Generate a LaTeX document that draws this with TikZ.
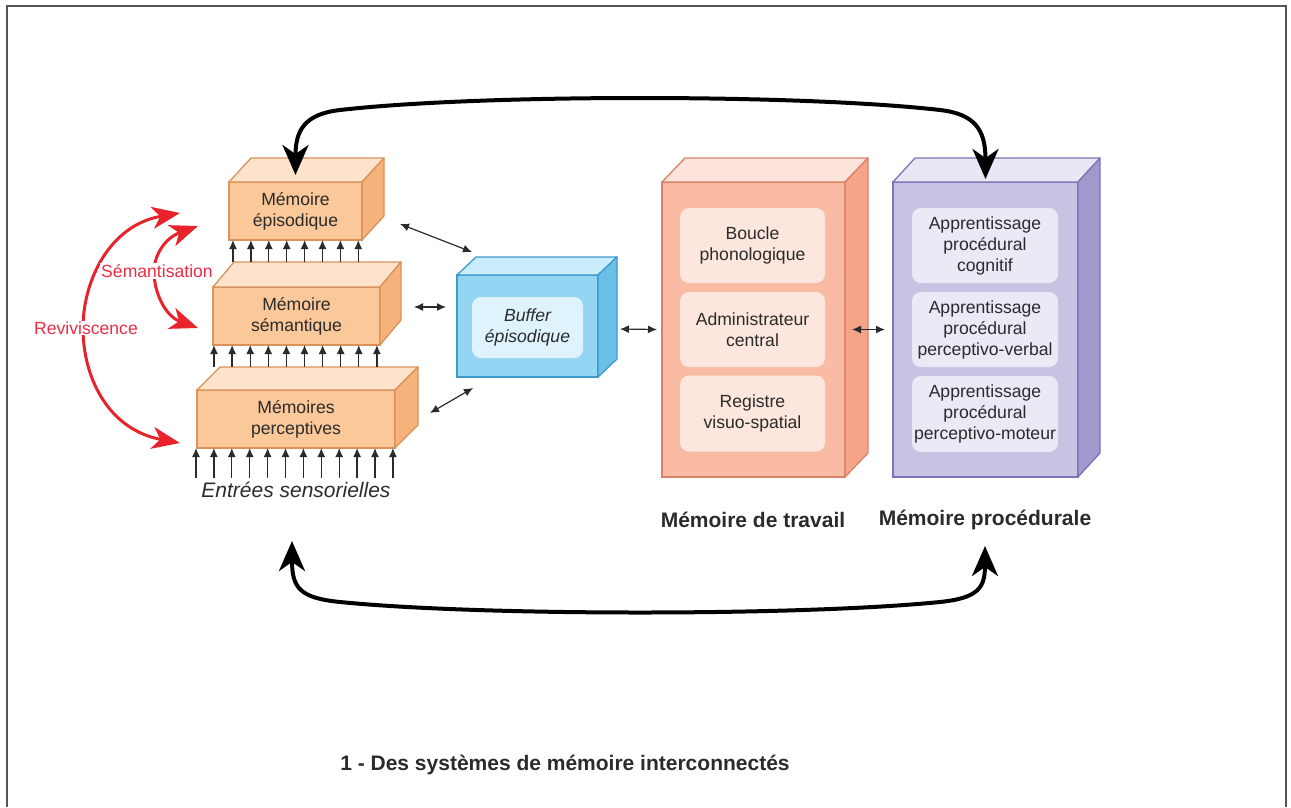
\documentclass[tikz,border=0pt]{standalone}
\usepackage{fontspec}
\setmainfont{Liberation Sans}
\usetikzlibrary{arrows.meta}
\definecolor{txt}{HTML}{2B2B2B}
\definecolor{redc}{HTML}{E8232B}
\definecolor{redt}{HTML}{EA2F45}
\definecolor{frame}{HTML}{555555}
% peach blocks
\definecolor{peach}{HTML}{FBC899}
\definecolor{peachtop}{HTML}{FDE3CC}
\definecolor{peachside}{HTML}{F5B27A}
\definecolor{peachline}{HTML}{D9925A}
% buffer
\definecolor{sky}{HTML}{93D5F2}
\definecolor{skytop}{HTML}{C9EDFB}
\definecolor{skyside}{HTML}{6CBFE6}
\definecolor{skyline}{HTML}{3D9ACB}
\definecolor{skyin}{HTML}{DFF3FC}
% working memory
\definecolor{salmon}{HTML}{F9BBA4}
\definecolor{salmontop}{HTML}{FDE4DA}
\definecolor{salmonside}{HTML}{F4A588}
\definecolor{salmonline}{HTML}{D9826A}
\definecolor{salmonin}{HTML}{FDE6DD}
% procedural
\definecolor{lila}{HTML}{C7C3E2}
\definecolor{lilatop}{HTML}{E8E7F4}
\definecolor{lilaside}{HTML}{9F99CC}
\definecolor{lilaline}{HTML}{7C74B8}
\definecolor{lilain}{HTML}{EAE9F5}
\newcommand{\blocktext}{\fontsize{17.6}{21}\selectfont}
\newcommand{\bigtext}{\fontsize{21}{24}\selectfont}
\newcommand{\blockfaces}[6]{% node, dx, dy, top, side, line
  \draw[draw=#6, fill=#4, line width=1.3pt, line join=round]
    (#1.north west) -- ([shift={(#2,-#3)}]#1.north west)
    -- ([shift={(#2,-#3)}]#1.north east) -- (#1.north east) -- cycle;
  \draw[draw=#6, fill=#5, line width=1.3pt, line join=round]
    (#1.north east) -- ([shift={(#2,-#3)}]#1.north east)
    -- ([shift={(#2,-#3)}]#1.south east) -- (#1.south east) -- cycle;
}
\tikzset{
  box/.style={draw, line width=1.3pt, inner sep=0pt, outer sep=0pt,
    align=center, text=txt, font=\blocktext},
  inbox/.style={rounded corners=9pt, inner sep=0pt, align=center,
    text=txt, font=\blocktext},
  upar/.style={-{Latex[length=9pt,width=8pt]}, line width=1.3pt, txt},
  dbl/.style={{Latex[length=9pt,width=8pt]}-{Latex[length=9pt,width=8pt]},
    line width=1.2pt, txt},
  bigar/.style={{Stealth[length=30pt,width=26pt,inset=9pt]}-{Stealth[length=30pt,width=26pt,inset=9pt]},
    line width=4pt, black},
  redar/.style={{Stealth[length=28pt,width=22pt,inset=8pt]}-{Stealth[length=28pt,width=22pt,inset=8pt]},
    line width=3pt, redc},
  redlabel/.style={fill=white, text=redt, font=\blocktext, inner sep=1pt},
  syslabel/.style={text=txt, font=\bigtext\bfseries}
}

\begin{document}
\begin{tikzpicture}[x=1pt, y=-1pt]
  \useasboundingbox (0,0) rectangle (1291,807);
  \draw[frame, line width=2pt] (7,807) -- (7,6) -- (1286,6) -- (1286,807);

  % red arcs
  \draw[redar] (180,213) .. controls (110,225) and (83,280) .. (83,328)
    .. controls (83,380) and (110,430) .. (180,443);
  \node[redlabel] (reviv) at (86,328) {Reviviscence};
  \draw[redar] (198,226) .. controls (165,238) and (154,255) .. (154,272)
    .. controls (154,292) and (165,316) .. (198,328);
  \node[redlabel] (semant) at (157,271) {Sémantisation};

  % left blocks
  \node[box, fill=peach, draw=peachline, minimum width=133pt, minimum height=58pt]
    (epi) at (295.5,211) {Mémoire\\épisodique};
  \blockfaces{epi}{22}{24}{peachtop}{peachside}{peachline}
  \node[box, fill=peach, draw=peachline, minimum width=167pt, minimum height=58pt]
    (sem) at (296.5,316) {Mémoire\\sémantique};
  \blockfaces{sem}{21}{25}{peachtop}{peachside}{peachline}
  \node[box, fill=peach, draw=peachline, minimum width=198pt, minimum height=58pt]
    (perc) at (296,419) {Mémoires\\perceptives};
  \blockfaces{perc}{23}{23}{peachtop}{peachside}{peachline}
  \node[text=txt, font=\bigtext\itshape] (entrees) at (296,490) {Entrées sensorielles};

  \foreach \i in {0,...,7}
    \draw[upar] ([xshift=4pt+17.9pt*\i, yshift=-22pt]epi.south west) -- ([xshift=4pt+17.9pt*\i]epi.south west);
  \foreach \i in {0,...,9}
    \draw[upar] ([xshift=1pt+18.1pt*\i, yshift=-22pt]sem.south west) -- ([xshift=1pt+18.1pt*\i]sem.south west);
  \foreach \i in {0,...,11}
    \draw[upar] ([xshift=-1pt+17.9pt*\i, yshift=-30pt]perc.south west) -- ([xshift=-1pt+17.9pt*\i]perc.south west);

  % buffer
  \node[box, fill=sky, draw=skyline, minimum width=141pt, minimum height=102pt]
    (buf) at (527.5,326) {};
  \blockfaces{buf}{19}{18}{skytop}{skyside}{skyline}
  \node[inbox, fill=skyin, minimum width=111pt, minimum height=61pt, font=\blocktext\itshape]
    (bufin) at (527.5,327.5) {Buffer\\épisodique};

  % working memory
  \node[box, fill=salmon, draw=salmonline, minimum width=183pt, minimum height=295pt]
    (wm) at (753.5,329.5) {};
  \blockfaces{wm}{23}{24}{salmontop}{salmonside}{salmonline}
  \node[inbox, fill=salmonin, minimum width=145pt, minimum height=75pt]
    (boucle) at (752.5,245.5) {Boucle\\phonologique};
  \node[inbox, fill=salmonin, minimum width=145pt, minimum height=75pt]
    (admin) at (752.5,329.5) {Administrateur\\central};
  \node[inbox, fill=salmonin, minimum width=145pt, minimum height=76pt]
    (registre) at (752.5,413.5) {Registre\\visuo-spatial};
  \node[syslabel] (wmlabel) at (753,520) {Mémoire de travail};

  % procedural memory
  \node[box, fill=lila, draw=lilaline, minimum width=185pt, minimum height=295pt]
    (proc) at (985.5,329.5) {};
  \blockfaces{proc}{22}{24}{lilatop}{lilaside}{lilaline}
  \node[inbox, fill=lilain, minimum width=146pt, minimum height=75pt]
    (cogn) at (985,245.5) {Apprentissage\\procédural\\cognitif};
  \node[inbox, fill=lilain, minimum width=146pt, minimum height=75pt]
    (verbal) at (985,329.5) {Apprentissage\\procédural\\perceptivo-verbal};
  \node[inbox, fill=lilain, minimum width=146pt, minimum height=76pt]
    (moteur) at (985,414) {Apprentissage\\procédural\\perceptivo-moteur};
  \node[syslabel] (proclabel) at (985,520) {Mémoire procédurale};

  % links
  \draw[dbl] ([xshift=38pt,yshift=-13pt]epi.east) -- ([xshift=15pt,yshift=23pt]buf.north west);
  \draw[dbl] ([xshift=34pt,yshift=9pt]sem.east) -- ([xshift=-11pt,yshift=19pt]buf.west);
  \draw[dbl] ([xshift=35pt,yshift=6pt]perc.east) -- ([xshift=16pt,yshift=-11pt]buf.south west);
  \draw[dbl] ([xshift=22pt,yshift=-3pt]buf.east) -- ([xshift=-5pt]wm.west);
  \draw[dbl] ([xshift=7pt]wm.east) -- ([xshift=-8pt]proc.west);

  % big loops
  \draw[bigar] ([yshift=7pt]epi.north) .. controls (295.5,130) and (305,114) .. (340,110)
    .. controls (480,94) and (800,94) .. (940,110)
    .. controls (975,114) and (985.5,130) .. ([yshift=3pt]proc.north);
  \coordinate (lowleft) at (292,541);
  \coordinate (lowright) at (985,546);
  \draw[bigar] (lowleft) .. controls (292,588) and (300,598) .. (340,602)
    .. controls (480,616) and (800,616) .. (940,602)
    .. controls (978,598) and (985,588) .. (lowright);

  \node[syslabel] (caption) at (565,765) {1 - Des systèmes de mémoire interconnectés};
\end{tikzpicture}
\end{document}
